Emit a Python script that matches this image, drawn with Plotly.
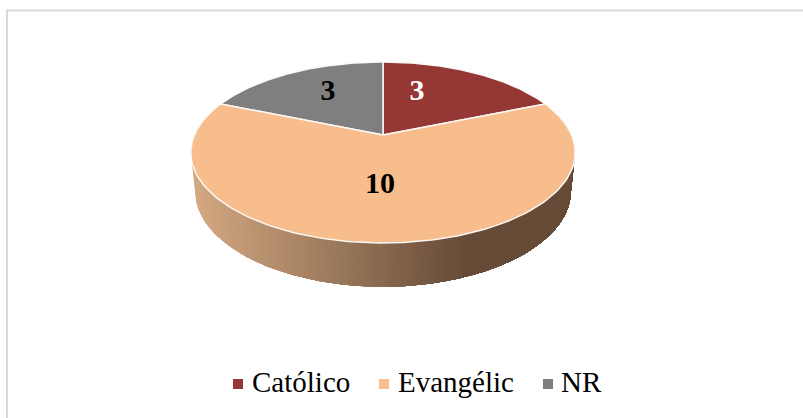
import numpy as np
import plotly.graph_objects as go

# Chart data
categories = ["Católico", "Evangélic", "NR"]
values = [3, 10, 3]
slice_colors = ["#953735", "#F7BD8C", "#7F7F7F"]
legend_colors = ["#953735", "#FAC08F", "#7F7F7F"]
label_colors = ["#FFFFFF", "#000000", "#000000"]

# Pie geometry: a disc seen in perspective, all in page pixels
CX, CY = 383.0, 135.0
RX, RY, PERSP = 188.6, 87.1, 0.193
FLOOR_CY, FLOOR_RX, FLOOR_RY = 172.0, 184.5, 92.5
FLOOR_CX = 383.0
SERIF = "Liberation Serif, Times New Roman, serif"

# Offsets of the value labels from the pie centre, and of the legend entries
label_dx = [34, -3, -55]
label_dy = [-43, 50, -43]
legend_marker_x = [238, 384, 548]
legend_text_x = [252, 398, 561]
LEGEND_Y = 385


def project(theta, cx=CX, cy=CY, rx=RX, ry=RY, r=1.0):
    """Project clockwise-from-top angles on the tilted disc to page pixels."""
    u, v = r * np.sin(theta), r * np.cos(theta)
    w = 1 + PERSP * v
    return cx + rx * u / w, cy - ry * v / w


def side_color(x):
    """Horizontal shading of the pie wall: light tan fading to flat dark brown."""
    t = min(max((x - 190) / (462 - 190), 0), 1)
    light, dark = (213, 170, 131), (102, 75, 55)
    return "rgb(%d,%d,%d)" % tuple(round(a + (b - a) * t) for a, b in zip(light, dark))


fig = go.Figure()

# Wall of the largest slice: painted left to right, each layer reaching the far
# end of the wall so that neighbouring shades leave no seams between them
total = sum(values)
wall_angles = np.radians(np.linspace(253, 107, 101))
for i in range(len(wall_angles) - 1):
    t = wall_angles[i:]
    xt, yt = project(t)
    xb, yb = project(t, FLOOR_CX, FLOOR_CY, FLOOR_RX, FLOOR_RY)
    px = [*xt, *xb[::-1], xt[0]]
    py = [*yt, *yb[::-1], yt[0]]
    col = side_color(float((xt[0] + xb[0]) / 2))
    fig.add_trace(go.Scatter(x=px, y=py, mode="lines", fill="toself", fillcolor=col,
                             line=dict(width=0), hoverinfo="skip"))

# Top face slices, largest last so its rim line sits on top of the wall
start = 0.0
spans = []
for v in values:
    spans.append((start, start + v / total * 2 * np.pi))
    start = spans[-1][1]
for i in [0, 2, 1]:
    t = np.linspace(spans[i][0], spans[i][1], 160)
    x, y = project(t)
    fig.add_trace(go.Scatter(
        x=[CX, *x, CX], y=[CY, *y, CY], mode="lines", fill="toself",
        fillcolor=slice_colors[i], line=dict(color="#FBF8F5", width=1.5),
        name=categories[i], hovertemplate="%{fullData.name}<extra></extra>"))

# Value labels
fig.add_trace(go.Scatter(
    x=[CX + d for d in label_dx], y=[CY + d for d in label_dy],
    mode="text", text=[str(v) for v in values],
    textfont=dict(family=SERIF, size=30, color=label_colors, weight="bold"),
    textposition="middle center", hoverinfo="skip"))

# Legend row
fig.add_trace(go.Scatter(
    x=legend_marker_x, y=[LEGEND_Y - 1] * 3, mode="markers",
    marker=dict(symbol="square", size=10, color=legend_colors, line=dict(width=0)),
    hoverinfo="skip"))
fig.add_trace(go.Scatter(
    x=legend_text_x, y=[LEGEND_Y] * 3, mode="text", text=categories,
    textposition="middle right", textfont=dict(family=SERIF, size=29, color="#000000"),
    hoverinfo="skip"))

# Chart frame: only the top and left edges fall inside the page
frame = dict(type="line", line=dict(color="#D9D9D9", width=2), xref="x", yref="y")
fig.update_layout(
    width=803, height=418, margin=dict(l=0, r=0, t=0, b=0),
    paper_bgcolor="white", plot_bgcolor="white", showlegend=False,
    xaxis=dict(range=[0, 803], visible=False, fixedrange=True),
    yaxis=dict(range=[418, 0], visible=False, fixedrange=True),
    shapes=[dict(frame, x0=7, x1=7, y0=10.5, y1=418),
            dict(frame, x0=6, x1=803, y0=10.5, y1=10.5)],
)

fig.write_html("out.html", config=dict(displayModeBar=False))
